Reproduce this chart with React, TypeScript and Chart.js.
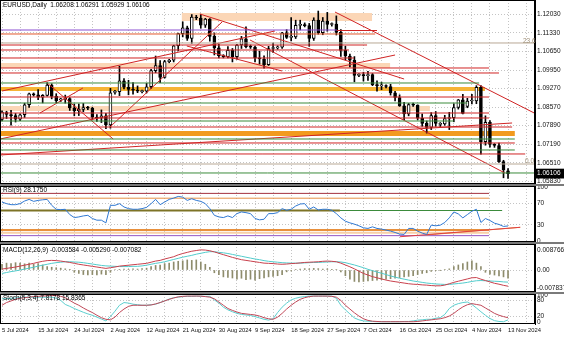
import React, { useEffect, useRef } from "react";
import { Chart, registerables } from "chart.js";

Chart.register(...registerables);

const FONT_FAMILY = "'Liberation Sans', Arial, sans-serif";
const FONT_SIZE = 6.5;
const DATE_FONT_SIZE = 5.8;
const GRID_COLOR = "#c4c4c4";
const AXIS_W = 29;

// ---------- data ----------
const DATE_LABELS = ["5 Jul 2024", "15 Jul 2024", "24 Jul 2024", "2 Aug 2024", "12 Aug 2024", "21 Aug 2024", "30 Aug 2024", "9 Sep 2024", "18 Sep 2024", "27 Sep 2024", "7 Oct 2024", "16 Oct 2024", "25 Oct 2024", "4 Nov 2024", "13 Nov 2024"];

const OPEN = [1.0812,1.0837,1.0830,1.0826,1.0813,1.0829,1.0866,1.0905,1.0903,1.0894,
 1.0901,1.0939,1.0897,1.0884,1.0886,1.0889,1.0854,1.0844,1.0849,1.0856,
 1.0853,1.0820,1.0817,1.0825,1.0791,1.0912,1.0915,1.0955,1.0931,1.0923,
 1.0920,1.0915,1.0917,1.0933,1.0993,1.1012,1.0968,1.1026,1.1032,1.1085,
 1.1130,1.1152,1.1112,1.1192,1.1188,1.1162,1.1184,1.1120,1.1077,1.1048,
 1.1045,1.1068,1.1045,1.1088,1.1111,1.1082,1.1080,1.1040,1.1036,1.1015,
 1.1075,1.1077,1.1080,1.1133,1.1116,1.1118,1.1161,1.1163,1.1160,1.1112,
 1.1180,1.1134,1.1177,1.1164,1.1166,1.1135,1.1068,1.1047,1.1032,1.0975,
 1.0976,1.0974,1.0978,1.0941,1.0936,1.0937,1.0934,1.0910,1.0893,1.0862,
 1.0832,1.0867,1.0865,1.0816,1.0797,1.0782,1.0826,1.0793,1.0795,1.0815,
 1.0818,1.0856,1.0884,1.0860,1.0880,1.0880,1.0931,1.0729,1.0801,1.0719,
 1.0715,1.0655,1.06208];
const HIGH = [1.0844,1.0842,1.0845,1.0834,1.0832,1.0872,1.0909,1.0910,1.0922,1.0904,
 1.0948,1.0944,1.0907,1.0890,1.0902,1.0893,1.0869,1.0869,1.0871,1.0860,
 1.0857,1.0830,1.0847,1.0834,1.0927,1.0920,1.1009,1.0963,1.0957,1.0948,
 1.0936,1.0921,1.0946,1.0998,1.1047,1.1030,1.1031,1.1035,1.1087,1.1132,
 1.1174,1.1158,1.1201,1.1198,1.1202,1.1187,1.1186,1.1133,1.1090,1.1052,
 1.1082,1.1075,1.1090,1.1120,1.1155,1.1088,1.1084,1.1065,1.1048,1.1083,
 1.1095,1.1085,1.1135,1.1145,1.1190,1.1180,1.1180,1.1170,1.1168,1.1189,
 1.1214,1.1190,1.1209,1.1170,1.1196,1.1145,1.1083,1.1054,1.1045,1.0982,
 1.0987,1.0990,1.0982,1.0955,1.0950,1.0940,1.0942,1.0916,1.0903,1.0875,
 1.0871,1.0872,1.0866,1.0832,1.0806,1.0837,1.0841,1.0800,1.0827,1.0838,
 1.0870,1.0886,1.0905,1.0890,1.0905,1.0937,1.0937,1.0825,1.0807,1.0722,
 1.0724,1.0660,1.06291];
const LOW = [1.0806,1.0815,1.0790,1.0802,1.0807,1.0819,1.0856,1.0898,1.0885,1.0873,
 1.0898,1.0888,1.0873,1.0878,1.0872,1.0845,1.0825,1.0826,1.0840,1.0848,
 1.0812,1.0804,1.0800,1.0777,1.0779,1.0905,1.0900,1.0925,1.0903,1.0905,
 1.0911,1.0910,1.0910,1.0927,1.0985,1.0948,1.0965,1.1022,1.1025,1.1066,
 1.1118,1.1105,1.1094,1.1182,1.1150,1.1153,1.1102,1.1051,1.1040,1.1040,
 1.1040,1.1025,1.1035,1.1075,1.1077,1.1075,1.1025,1.1017,1.1002,1.1012,
 1.1060,1.1072,1.1075,1.1112,1.1103,1.1112,1.1144,1.1155,1.1083,1.1105,
 1.1128,1.1126,1.1139,1.1158,1.1125,1.1046,1.1033,1.1007,1.0951,1.0970,
 1.0954,1.0956,1.0937,1.0917,1.0922,1.0929,1.0902,1.0880,1.0860,1.0811,
 1.0825,1.0860,1.0810,1.0786,1.0761,1.0774,1.0786,1.0785,1.0790,1.0774,
 1.0803,1.0850,1.0832,1.0855,1.0869,1.0870,1.0683,1.0716,1.0709,1.0708,
 1.0652,1.0595,1.05929];
const CLOSE = [1.0839,1.0830,1.0826,1.0813,1.0829,1.0866,1.0907,1.0903,1.0894,1.0901,
 1.0939,1.0897,1.0881,1.0886,1.0889,1.0854,1.0844,1.0849,1.0856,1.0853,
 1.0820,1.0817,1.0825,1.0791,1.0910,1.0915,1.0955,1.0931,1.0923,1.0920,
 1.0917,1.0917,1.0933,1.0993,1.1012,1.0968,1.1026,1.1032,1.1085,1.1130,
 1.1152,1.1112,1.1192,1.1188,1.1162,1.1184,1.1120,1.1077,1.1048,1.1045,
 1.1068,1.1045,1.1088,1.1111,1.1082,1.1080,1.1040,1.1036,1.1015,1.1075,
 1.1077,1.1080,1.1133,1.1116,1.1118,1.1161,1.1163,1.1160,1.1112,1.1180,
 1.1134,1.1177,1.1164,1.1166,1.1135,1.1068,1.1047,1.1032,1.0975,1.0976,
 1.0974,1.0978,1.0941,1.0936,1.0937,1.0934,1.0910,1.0893,1.0862,1.0832,
 1.0867,1.0865,1.0816,1.0797,1.0782,1.0826,1.0797,1.0795,1.0815,1.0818,
 1.0856,1.0884,1.0834,1.0880,1.0880,1.0931,1.0729,1.0801,1.0719,1.0715,
 1.0655,1.0624,1.06106];

const RSI = [72.8,69.8,67.9,67.9,69.8,74.7,77.8,74.1,75.9,77,
 77.8,66.7,59.3,58.6,59.3,49.4,43.8,45,46.9,48,
 42,38.9,38.9,33.9,66.7,66.7,69.8,63.6,60.5,59.3,
 59.3,60.5,62.9,69.8,77.8,67.9,72.8,77.8,80.2,83.3,
 82,75.9,79,75.9,74.1,69.8,60.5,48,45,43.8,
 46.9,43.8,51.2,54.3,53,51.2,42,39.5,40.7,51.2,
 51.2,53,60.5,57.4,59.3,65.4,69.1,69.8,59.3,63.6,
 58,59.3,59.3,57.4,51.2,43.2,37,33.9,31.5,28.4,
 24.7,23.5,26.5,23.5,22.2,20.4,18.5,16,13,12.3,
 23.5,23.5,18.5,14.8,12.3,29.6,28.4,29.6,34.6,43.2,
 54.3,50.6,43.2,49.4,55.6,59.3,34.6,42,38.3,33.3,30.9,27.2,28.175];

const MACD_MAIN = [0.0004,0.0007,0.0010,0.0013,0.0017,0.0021,0.0025,0.0029,0.0034,0.0038,
 0.0041,0.0042,0.0041,0.0039,0.0036,0.0033,0.0029,0.0025,0.0022,0.0019,
 0.0016,0.0013,0.0010,0.0007,0.0010,0.0013,0.0017,0.0019,0.0021,0.0023,
 0.0025,0.0027,0.0029,0.0034,0.0039,0.0042,0.0048,0.0053,0.0058,0.0066,
 0.0072,0.0077,0.0082,0.0085,0.0088,0.0087,0.0084,0.0079,0.0073,0.0067,
 0.0061,0.0055,0.0050,0.0045,0.0042,0.0039,0.0036,0.0033,0.0030,0.0029,
 0.0028,0.0026,0.0025,0.0026,0.0028,0.0029,0.0031,0.0033,0.0034,0.0035,
 0.0036,0.0038,0.0039,0.0038,0.0036,0.0030,0.0022,0.0014,0.0005,-0.0005,
 -0.0015,-0.0022,-0.0029,-0.0034,-0.0039,-0.0044,-0.0048,-0.0051,-0.0054,-0.0057,
 -0.0060,-0.0062,-0.0063,-0.0065,-0.0066,-0.0068,-0.0069,-0.0069,-0.0066,-0.0060,
 -0.0054,-0.0049,-0.0044,-0.0039,-0.0034,-0.0033,-0.0040,-0.0046,-0.0052,-0.0058,-0.0062,-0.0067,-0.007082];
const MACD_SIGNAL = [-0.0015,-0.0011,-0.0007,-0.0004,0.0000,0.0004,0.0008,0.0012,0.0017,0.0021,
 0.0025,0.0029,0.0032,0.0034,0.0036,0.0036,0.0035,0.0034,0.0032,0.0029,
 0.0026,0.0023,0.0020,0.0018,0.0017,0.0016,0.0015,0.0015,0.0015,0.0016,
 0.0016,0.0018,0.0021,0.0025,0.0029,0.0032,0.0036,0.0041,0.0046,0.0051,
 0.0056,0.0060,0.0064,0.0069,0.0073,0.0077,0.0080,0.0080,0.0077,0.0075,
 0.0072,0.0068,0.0064,0.0060,0.0056,0.0052,0.0048,0.0045,0.0041,0.0038,
 0.0036,0.0034,0.0032,0.0031,0.0030,0.0030,0.0030,0.0031,0.0032,0.0033,
 0.0033,0.0034,0.0035,0.0036,0.0036,0.0035,0.0032,0.0027,0.0022,0.0016,
 0.0010,0.0003,-0.0003,-0.0009,-0.0014,-0.0020,-0.0026,-0.0031,-0.0036,-0.0040,
 -0.0044,-0.0048,-0.0051,-0.0054,-0.0057,-0.0059,-0.0061,-0.0062,-0.0063,-0.0063,
 -0.0061,-0.0059,-0.0057,-0.0054,-0.0050,-0.0047,-0.0046,-0.0047,-0.0048,-0.0049,-0.0050,-0.0052,-0.005290];
const MACD_HIST = [0.0025,0.0030,0.0028,0.0032,0.0030,0.0027,0.0030,0.0025,0.0028,0.0022,
 0.0015,0.0012,0.0010,0.0008,0.0005,0.0003,-0.0010,-0.0015,-0.0020,-0.0022,
 -0.0020,-0.0022,-0.0018,-0.0020,-0.0010,0.0002,0.0003,0.0004,0.0003,0.0005,
 0.0004,0.0006,0.0008,0.0015,0.0020,0.0022,0.0028,0.0030,0.0035,0.0038,
 0.0040,0.0044,0.0042,0.0044,0.0035,0.0025,0.0012,-0.0012,-0.0020,-0.0030,
 -0.0032,-0.0035,-0.0040,-0.0036,-0.0042,-0.0040,-0.0044,-0.0038,-0.0035,-0.0030,
 -0.0028,-0.0025,-0.0020,-0.0008,-0.0004,0.0002,0.0004,0.0006,0.0005,0.0007,
 0.0006,0.0004,0.0005,0.0003,0.0002,-0.0008,-0.0025,-0.0040,-0.0050,-0.0052,
 -0.0050,-0.0048,-0.0046,-0.0044,-0.0042,-0.0040,-0.0038,-0.0036,-0.0033,-0.0030,
 -0.0028,-0.0025,-0.0020,-0.0015,-0.0012,-0.0006,-0.0003,-0.0001,0.0002,0.0005,
 0.0015,0.0022,0.0028,0.0035,0.0040,0.0030,0.0015,-0.0010,-0.0018,-0.0022,-0.0026,-0.0030,-0.003584];

const STOCH_MAIN = [86,86,88,89,90,92,92,92,92,92,
 92,92,88,80,65,58,50,43,36,30,
 25,18,11,4,20,40,62,72,70,66,
 64,62,62,64,66,72,78,85,90,92,
 94,95,95,96,95,95,95,82,70,55,
 45,38,32,28,26,24,20,15,10,7,
 12,35,55,70,82,88,92,94,96,96,
 96,96,96,96,88,62,45,30,15,8,
 4,3,2,1,1,1,1,1,1,2,
 2,4,7,8,10,10,14,16,28,50,
 62,68,72,74,65,52,38,25,13,5,2,1,7.8178];
const STOCH_SIGNAL = [62,72,78,84,88,90,92,94,95,96,
 97,98,98,95,90,80,70,62,52,43,
 35,25,16,10,8,18,35,48,58,62,
 62,62,62,63,67,72,78,84,89,93,
 95,96,96,96,96,94,92,86,74,62,
 50,43,37,32,30,28,26,22,16,12,
 10,18,32,48,62,74,84,90,94,96,
 96,96,96,95,92,80,62,48,34,22,
 12,6,3,2,1,1,1,1,1,1,
 1,1,2,4,6,8,10,12,16,22,
 32,45,56,64,68,65,62,52,42,32,25,20,15.8365];

const PRICE_TICKS = [1.1203, 1.1133, 1.1065, 1.0995, 1.0927, 1.0857, 1.0789, 1.0719, 1.0651, 1.0583];
const LAST_PRICE = 1.06106;
const RSI_TICKS = [0, 30, 70, 100];
const MACD_TICKS = [-0.007837, 0, 0.008766];
const STOCH_TICKS = [0, 20, 80, 100];

// horizontal levels on the price chart: price, from bar, to bar
const LEVEL_PRICE = [1.11919, 1.11436, 1.11417, 1.11288, 1.10954, 1.10879, 1.10694, 1.10397, 1.10118, 1.10026, 1.0984, 1.09469, 1.09246, 1.08949, 1.08726, 1.08522, 1.08355, 1.0817, 1.08058, 1.07835, 1.07594, 1.0739, 1.07242, 1.06982, 1.06834, 1.06462, 1.06128];
const LEVEL_FROM = [39.8, -1, 74.1, -1, -1, -1, -1, -1, -1, -1, -1, -1, -1, -1, -1, -1, -1, -1, -1, -1, -1, -1, -1, -1, -1, -1, -1];
const LEVEL_TO = [81.9, 74.1, 83, 82.6, 120, 80.8, 76.8, 77.9, 85.9, 107.8, 110, 105.6, 106.9, 107.8, 103, 94.7, 107.8, 107.8, 100, 112.9, 113.5, 113.5, 113.5, 113.5, 115.8, 120, 120];
const LEVEL_KIND = ["peachWide", "purple", "red", "orangeRed", "fib", "red", "red", "red", "peach", "red", "red", "green", "yellowBand", "red", "green", "peach", "red", "red", "green", "red", "orangeBand", "green", "red", "green", "red", "fib", "green"];

// trend lines: from bar/price to bar/price
const TREND_FROM_BAR = [0, -0.44, -0.44, 23.9, 10.0, 8.4, 43.8, 40.9, 54.9, 73.7];
const TREND_FROM_PRICE = [1.09172, 1.0739, 1.06796, 1.07836, 1.09469, 1.08355, 1.1203, 1.10842, 1.11065, 1.12104];
const TREND_TO_BAR = [60.4, 87.0, 112.9, 48.7, 24.6, 17.9, 89.0, 62.0, 111.3, 119.1];
const TREND_TO_PRICE = [1.11399, 1.10508, 1.07984, 1.11733, 1.0739, 1.09283, 1.09617, 1.09914, 1.06128, 1.08244];

// RSI window levels
const RSI_LEVEL_VALUE = [89, 80, 57, 57, 20.5, 15.5, 10];
const RSI_LEVEL_FROM = [-1, -1, -1, 74.8, -1, -1, -1];
const RSI_LEVEL_TO = [107.8, 107.8, 74.8, 110.7, 107.8, 107.8, 107.8];
const RSI_LEVEL_KIND = ["maroon", "orange", "olive", "green", "orangeBand", "peach", "purple"];
const RSI_TREND_FROM_BAR = [88.1, 93.6];
const RSI_TREND_FROM_VAL = [8, 11];
const RSI_TREND_TO_BAR = [114.7, 114.7];
const RSI_TREND_TO_VAL = [25.6, 25.6];
const RSI_TREND_KIND = ["red", "orange"];

// ---------- styles ----------
const STYLE: Record<string, { c: string; w: number; under: boolean }> = {
  peachWide: { c: "#fbd6b6", w: 8, under: true },
  peach: { c: "#fbd6b6", w: 5, under: true },
  purple: { c: "#8b4fd0", w: 1, under: false },
  red: { c: "#d02424", w: 1, under: false },
  orangeRed: { c: "#e2572c", w: 1, under: false },
  fib: { c: "#b8a894", w: 1, under: false },
  green: { c: "#3b8b3b", w: 1, under: false },
  yellowBand: { c: "#f6b435", w: 4, under: true },
  orangeBand: { c: "#f29a1e", w: 5, under: true },
};
const RSI_STYLE: Record<string, { c: string; w: number }> = {
  maroon: { c: "#a3303e", w: 1 },
  orange: { c: "#e69046", w: 1 },
  olive: { c: "#7d7326", w: 2 },
  green: { c: "#3b8b3b", w: 1 },
  orangeBand: { c: "#e8903c", w: 2 },
  peach: { c: "#f8cfa6", w: 2 },
  purple: { c: "#9354c4", w: 1 },
  red: { c: "#e04040", w: 1 },
};

// ---------- scale helpers ----------
const X_MIN = -0.443;
const X_MAX = 117.97;
const GRID_STEP = 4;
const LABEL_STEP = 8;
const font = { family: FONT_FAMILY, size: FONT_SIZE };

function makeX(showLabels: boolean) {
  return {
    type: "linear",
    min: X_MIN,
    max: X_MAX,
    offset: false,
    afterBuildTicks: (s: any) => {
      const t: any[] = [];
      for (let v = 0; v <= X_MAX; v += GRID_STEP) t.push({ value: v });
      s.ticks = t;
    },
    grid: { color: GRID_COLOR, lineWidth: 1, drawTicks: false, offset: false },
    border: { display: false, dash: [1, 2] },
    ticks: {
      display: showLabels,
      autoSkip: false,
      maxRotation: 0,
      minRotation: 0,
      align: "start",
      padding: 3,
      color: "#111",
      font: { family: FONT_FAMILY, size: DATE_FONT_SIZE },
      callback: (v: number) => (v % LABEL_STEP === 0 ? DATE_LABELS[v / LABEL_STEP] ?? "" : ""),
    },
    afterFit: (s: any) => {
      s.paddingLeft = 0;
      s.paddingRight = 0;
      s.height = showLabels ? 14 : 0;
    },
  };
}

function makeY(min: number, max: number, ticks: number[], gridAt: (v: number) => boolean, fmt: (v: number) => string, extra?: any) {
  return {
    position: "right",
    min,
    max,
    afterBuildTicks: (s: any) => {
      s.ticks = ticks.map((v) => ({ value: v }));
    },
    grid: {
      color: (c: any) => (c.tick && gridAt(c.tick.value) ? GRID_COLOR : "rgba(0,0,0,0)"),
      drawTicks: false,
    },
    border: { display: true, color: "#000", width: 1, dash: [1, 2] },
    ticks: {
      autoSkip: false,
      padding: 2,
      font,
      color: "#111",
      callback: (v: number) => fmt(v),
      ...(extra || {}),
    },
    afterFit: (s: any) => {
      s.width = AXIS_W;
      s.paddingTop = 0;
      s.paddingBottom = 0;
    },
  };
}

const framePlugin = {
  id: "frame",
  afterDraw(chart: any) {
    const { ctx, chartArea: a } = chart;
    ctx.save();
    ctx.strokeStyle = "#000";
    ctx.lineWidth = 1;
    ctx.strokeRect(a.left + 0.5, a.top + 0.5, a.right - a.left - 1, a.bottom - a.top - 1);
    ctx.restore();
  },
};

const baseOptions = {
  responsive: false,
  maintainAspectRatio: false,
  animation: false,
  events: [],
  layout: { padding: 0 },
  plugins: { legend: { display: false }, tooltip: { enabled: false }, title: { display: false } },
};

function seg(x1: number, y1: number, x2: number, y2: number, color: string, width: number, order: number) {
  return {
    type: "line",
    data: [{ x: x1, y: y1 }, { x: x2, y: y2 }],
    borderColor: color,
    borderWidth: width,
    borderCapStyle: "butt",
    pointRadius: 0,
    tension: 0,
    fill: false,
    order,
  };
}

const P_MAX = 1.1203 + 14 / 2694;
const P_MIN = 1.1203 - 170 / 2694;

function buildMain(canvas: HTMLCanvasElement) {
  const idx = OPEN.map((_, i) => i);
  const datasets: any[] = [];
  LEVEL_PRICE.forEach((p, k) => {
    const st = STYLE[LEVEL_KIND[k]];
    datasets.push(seg(LEVEL_FROM[k], p, LEVEL_TO[k], p, st.c, st.w, st.under ? 10 : 1));
  });
  TREND_FROM_BAR.forEach((b, k) => {
    datasets.push(seg(b, TREND_FROM_PRICE[k], TREND_TO_BAR[k], TREND_TO_PRICE[k], "#d02424", 1, 1));
  });
  datasets.push({
    type: "bar",
    data: idx.map((i) => ({ x: i, y: [LOW[i], HIGH[i]] })),
    backgroundColor: "#000",
    barThickness: 1,
    grouped: false,
    order: 6,
  });
  datasets.push({
    type: "bar",
    data: idx.map((i) => ({ x: i, y: [OPEN[i], CLOSE[i]] })),
    backgroundColor: idx.map((i) => (CLOSE[i] >= OPEN[i] ? "#ffffff" : "#000000")),
    borderColor: "#000",
    borderWidth: 1,
    borderSkipped: false,
    barThickness: 3,
    minBarLength: 1,
    grouped: false,
    order: 5,
  });
  return new Chart(canvas, {
    type: "bar",
    data: { datasets },
    options: {
      ...baseOptions,
      scales: {
        x: makeX(false),
        y: makeY(
          P_MIN,
          P_MAX,
          [...PRICE_TICKS, LAST_PRICE],
          (v) => v !== LAST_PRICE,
          (v) => Number(v).toFixed(5),
          {
            color: (c: any) => (c.tick && c.tick.value === LAST_PRICE ? "#fff" : "#111"),
            showLabelBackdrop: (c: any) => !!(c.tick && c.tick.value === LAST_PRICE),
            backdropColor: "#000",
            backdropPadding: { top: 1, bottom: 1, left: 2, right: 5 },
          }
        ),
      },
    } as any,
    plugins: [framePlugin],
  } as any);
}

function buildRsi(canvas: HTMLCanvasElement) {
  const datasets: any[] = [];
  RSI_LEVEL_VALUE.forEach((v, k) => {
    const st = RSI_STYLE[RSI_LEVEL_KIND[k]];
    datasets.push(seg(RSI_LEVEL_FROM[k], v, RSI_LEVEL_TO[k], v, st.c, st.w, 5));
  });
  RSI_TREND_FROM_BAR.forEach((b, k) => {
    const st = RSI_STYLE[RSI_TREND_KIND[k]];
    datasets.push(seg(b, RSI_TREND_FROM_VAL[k], RSI_TREND_TO_BAR[k], RSI_TREND_TO_VAL[k], st.c, st.w, 4));
  });
  datasets.push({
    type: "line",
    data: RSI.map((v, i) => ({ x: i, y: v })),
    borderColor: "#2f78d2",
    borderWidth: 1,
    pointRadius: 0,
    tension: 0,
    order: 1,
  });
  return new Chart(canvas, {
    type: "line",
    data: { datasets },
    options: {
      ...baseOptions,
      scales: {
        x: makeX(false),
        y: makeY(-1.87, 102.8, RSI_TICKS, (v) => v === 30 || v === 70, (v) => String(v)),
      },
    } as any,
    plugins: [framePlugin],
  } as any);
}

function buildMacd(canvas: HTMLCanvasElement) {
  const datasets: any[] = [
    {
      type: "bar",
      data: MACD_HIST.map((v, i) => ({ x: i, y: v })),
      backgroundColor: "#8e8c6c",
      barThickness: 1,
      grouped: false,
      order: 3,
    },
    {
      type: "line",
      data: MACD_SIGNAL.map((v, i) => ({ x: i, y: v })),
      borderColor: "#52cccc",
      borderWidth: 1,
      pointRadius: 0,
      tension: 0,
      order: 2,
    },
    {
      type: "line",
      data: MACD_MAIN.map((v, i) => ({ x: i, y: v })),
      borderColor: "#c8404c",
      borderWidth: 1,
      pointRadius: 0,
      tension: 0,
      order: 1,
    },
  ];
  return new Chart(canvas, {
    type: "bar",
    data: { datasets },
    options: {
      ...baseOptions,
      scales: {
        x: makeX(false),
        y: makeY(-22 / 2290, 26 / 2290, MACD_TICKS, (v) => v === 0, (v) => (v === 0 ? "0.00" : Number(v).toFixed(6))),
      },
    } as any,
    plugins: [framePlugin],
  } as any);
}

function buildStoch(canvas: HTMLCanvasElement) {
  const datasets: any[] = [
    {
      type: "line",
      data: STOCH_MAIN.map((v, i) => ({ x: i, y: v })),
      borderColor: "#5ccfcf",
      borderWidth: 1,
      pointRadius: 0,
      tension: 0,
      order: 2,
    },
    {
      type: "line",
      data: STOCH_SIGNAL.map((v, i) => ({ x: i, y: v })),
      borderColor: "#c04858",
      borderWidth: 1,
      pointRadius: 0,
      tension: 0,
      order: 1,
    },
  ];
  return new Chart(canvas, {
    type: "line",
    data: { datasets },
    options: {
      ...baseOptions,
      scales: {
        x: makeX(true),
        y: makeY(-7.4, 103.7, STOCH_TICKS, (v) => v === 20 || v === 80, (v) => String(v)),
      },
    } as any,
    plugins: [framePlugin],
  } as any);
}

const textStyle: React.CSSProperties = {
  position: "absolute",
  fontFamily: FONT_FAMILY,
  fontSize: 6.5,
  lineHeight: "8px",
  color: "#000",
  whiteSpace: "pre",
  pointerEvents: "none",
};

export default function App() {
  const mainRef = useRef<HTMLCanvasElement>(null);
  const rsiRef = useRef<HTMLCanvasElement>(null);
  const macdRef = useRef<HTMLCanvasElement>(null);
  const stochRef = useRef<HTMLCanvasElement>(null);

  useEffect(() => {
    document.body.style.margin = "0";
    const charts = [
      buildMain(mainRef.current!),
      buildRsi(rsiRef.current!),
      buildMacd(macdRef.current!),
      buildStoch(stochRef.current!),
    ];
    return () => charts.forEach((c) => c.destroy());
  }, []);

  const cv = (top: number, h: number): React.CSSProperties => ({ position: "absolute", left: 0, top, width: 564, height: h });
  const sep = (top: number): React.CSSProperties => ({ position: "absolute", left: 0, top, width: 564, height: 2, background: "#7a7a7a" });

  return (
    <div style={{ position: "fixed", left: 0, top: 0, width: 564, height: 338, background: "#fff", overflow: "hidden" }}>
      <canvas ref={mainRef} width={564} height={184} style={cv(0, 184)} />
      <div style={sep(184)} />
      <canvas ref={rsiRef} width={564} height={56} style={cv(186, 56)} />
      <div style={sep(242)} />
      <canvas ref={macdRef} width={564} height={48} style={cv(244, 48)} />
      <div style={sep(292)} />
      <canvas ref={stochRef} width={564} height={44} style={cv(294, 44)} />

      <div style={{ ...textStyle, left: 3, top: 1 }}>{"EURUSD,Daily  1.06208 1.06291 1.05929 1.06106"}</div>
      <div style={{ ...textStyle, left: 3, top: 186 }}>{"RSI(9) 28.1750"}</div>
      <div style={{ ...textStyle, left: 3, top: 246 }}>{"MACD(12,26,9) -0.003584 -0.005290 -0.007082"}</div>
      <div style={{ ...textStyle, left: 3, top: 294 }}>{"Stoch(5,3,4) 7.8178 15.8365"}</div>
      <div style={{ ...textStyle, left: 523, top: 37, color: "#a09078" }}>{"23.6"}</div>
      <div style={{ ...textStyle, left: 525, top: 157, color: "#a09078" }}>{"0.0"}</div>
    </div>
  );
}
